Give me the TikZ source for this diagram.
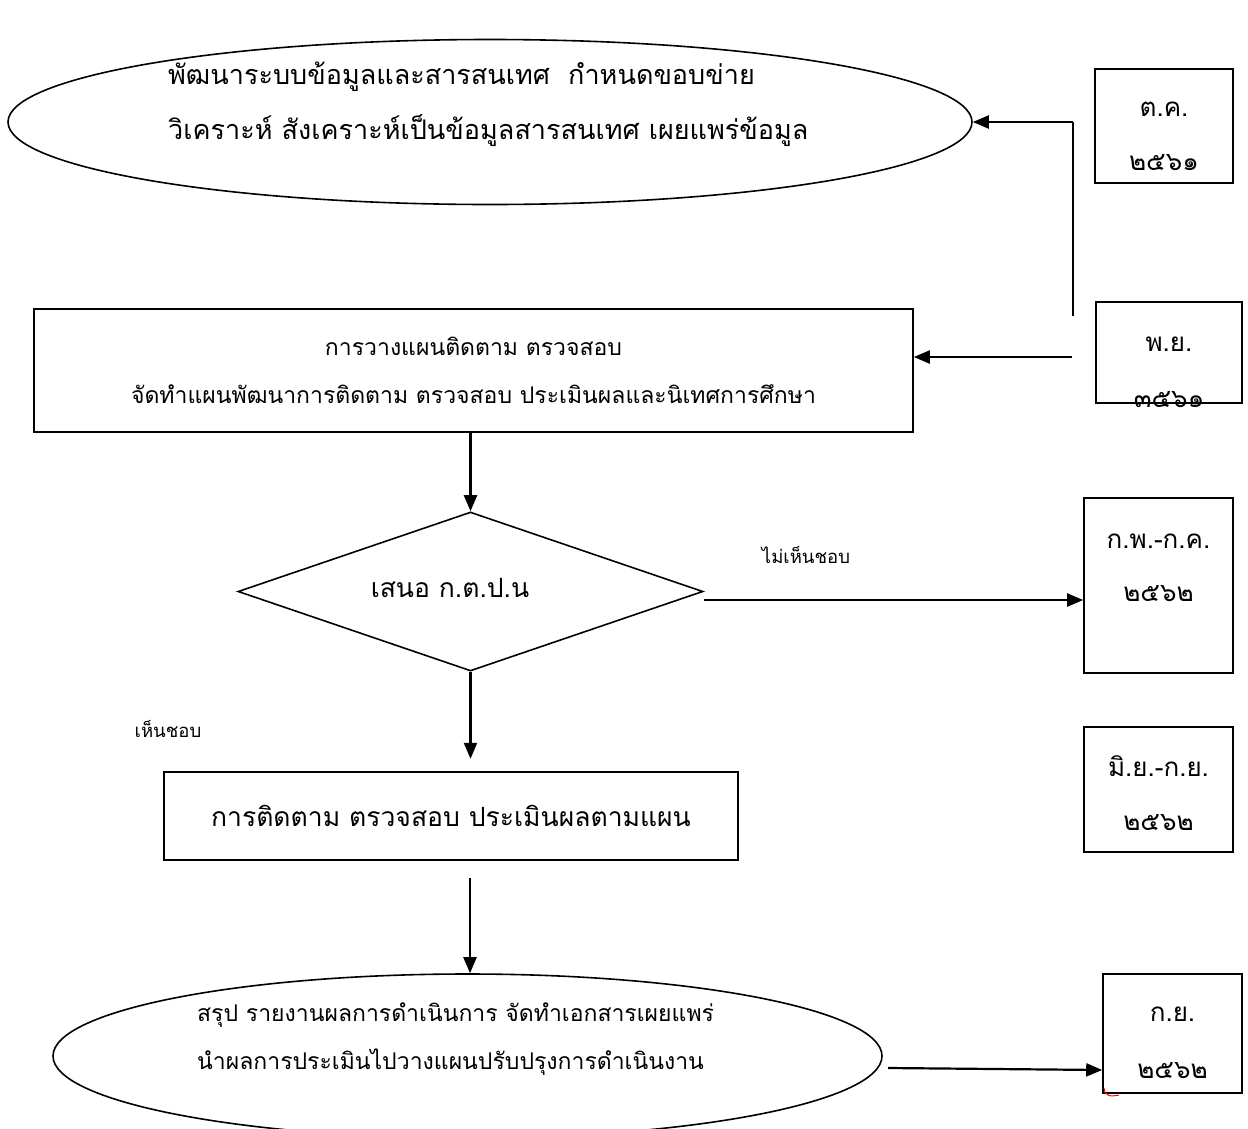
\documentclass[tikz,border=0pt]{standalone}
\usepackage{fontspec}
\newfontfamily\thaifont[Script=Thai]{Loma}
\usetikzlibrary{shapes.geometric,arrows.meta}

\tikzset{
  every node/.style={font=\thaifont\fontsize{26.5}{30}\selectfont, inner sep=0pt},
  thick line/.style={line width=1.6pt},
  flowarrow/.style={line width=2.2pt, -{Triangle[length=16pt,width=13pt]}},
  datebox/.style={draw, thick line, rectangle},
  smalltext/.style={font=\thaifont\fontsize{23}{48}\selectfont},
  tinytext/.style={font=\thaifont\fontsize{18.5}{20}\selectfont},
}

\begin{document}
\begin{tikzpicture}[x=1pt,y=-1pt]
  \useasboundingbox (0,0) rectangle (1248,1128);

  % top ellipse
  \node[draw, thick line, ellipse, minimum width=964, minimum height=165] (develop) at (490,122) {};
  \node[anchor=west, align=left, font=\thaifont\fontsize{27}{55}\selectfont] (developtext) at (168,104)
    {พัฒนาระบบข้อมูลและสารสนเทศ~~กำหนดขอบข่าย\\วิเคราะห์ สังเคราะห์เป็นข้อมูลสารสนเทศ เผยแพร่ข้อมูล};

  % planning box
  \node[draw, thick line, rectangle, minimum width=879, minimum height=123, align=center, smalltext] (plan) at (473.5,370.5)
    {การวางแผนติดตาม ตรวจสอบ\\จัดทำแผนพัฒนาการติดตาม ตรวจสอบ ประเมินผลและนิเทศการศึกษา};

  % decision
  \node[draw, thick line, diamond, minimum width=465, minimum height=159] (propose) at (470.5,591.5) {};
  \node (proposetext) at (450,588) {เสนอ ก.ต.ป.น};

  % follow-up box
  \node[draw, thick line, rectangle, minimum width=574, minimum height=88] (follow) at (451,816) {การติดตาม ตรวจสอบ ประเมินผลตามแผน};

  % bottom ellipse
  \node[draw, thick line, ellipse, minimum width=829, minimum height=164] (summary) at (467.5,1056) {};
  \node[anchor=west, align=left, smalltext] (summarytext) at (197,1039)
    {สรุป รายงานผลการดำเนินการ จัดทำเอกสารเผยแพร่\\นำผลการประเมินไปวางแผนปรับปรุงการดำเนินงาน};

  % date boxes
  \node[datebox, minimum width=138, minimum height=114] (oct) at (1164,126) {};
  \node (octtext) at (1164,136) [align=center, font=\thaifont\fontsize{26}{54}\selectfont] {ต.ค.\\๒๕๖๑};
  \node[datebox, minimum width=146, minimum height=101] (nov) at (1169,352.5) {};
  \node (novtext) at (1169,372) [align=center, font=\thaifont\fontsize{26}{56}\selectfont] {พ.ย.\\๓๕๖๑};
  \node[datebox, minimum width=149, minimum height=175] (feb) at (1158.5,585.5) {};
  \node (febtext) at (1158.5,568) [align=center, font=\thaifont\fontsize{26}{53}\selectfont] {ก.พ.-ก.ค.\\๒๕๖๒};
  \node[datebox, minimum width=149, minimum height=125] (jun) at (1158.5,789.5) {};
  \node (juntext) at (1158.5,793) [align=center, font=\thaifont\fontsize{26}{54}\selectfont] {มิ.ย.-ก.ย.\\๒๕๖๒};
  \node[datebox, minimum width=139, minimum height=119] (sep) at (1172.5,1033.5) {};
  \node (septext) at (1172.5,1043) [align=center, font=\thaifont\fontsize{26}{57}\selectfont] {ก.ย.\\๒๕๖๒};

  % labels
  \node[tinytext] (reject) at (806,555) {ไม่เห็นชอบ};
  \node[tinytext] (accept) at (168,729) {เห็นชอบ};

  % connectors
  \coordinate (bendtop) at (1073,122);
  \coordinate (bendlow) at (1073,316);
  \coordinate (novstart) at (1072,357);
  \coordinate (followout) at (470,878);
  \coordinate (summaryout) at (888,1068);
  \draw[thick line] (bendlow) -- (bendtop);
  \draw[flowarrow] (bendtop) -- (develop.east |- bendtop);
  \draw[flowarrow] (novstart) -- (plan.east |- novstart);
  \draw[flowarrow] (plan.south -| propose.north) -- (propose.north);
  \draw[flowarrow] (propose.east |- 0,600) -- (feb.west |- 0,600);
  \draw[flowarrow] (propose.south) -- ++(0,87);
  \draw[flowarrow] (followout) -- (summary.north -| followout);
  \draw[flowarrow] (summaryout) -- (sep.west |- 0,1070);

  % stray red mark
  \draw[red, line width=1pt] (1104,1088) .. controls (1105,1096) and (1110,1097) .. (1119,1095);
\end{tikzpicture}
\end{document}
